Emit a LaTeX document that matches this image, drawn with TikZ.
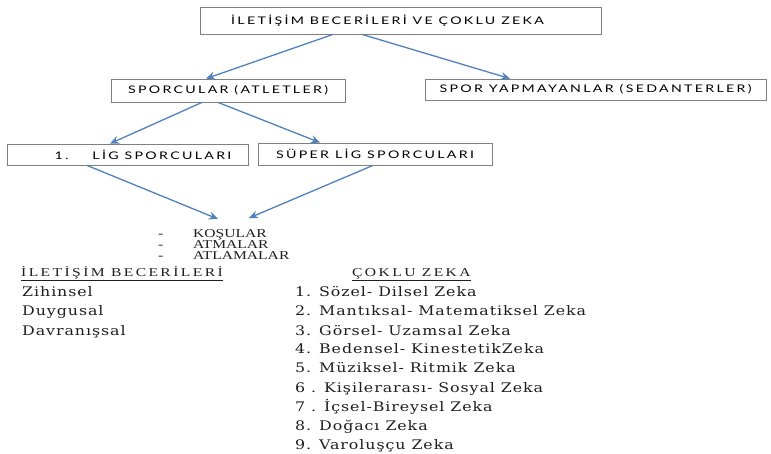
\documentclass[tikz,border=0pt]{standalone}
\usepackage{fontspec}
\setmainfont{DejaVu Serif}
\newfontfamily\kutufont[FakeStretch=1.35,LetterSpace=22]{Lato}
\newfontfamily\basfont[FakeStretch=1.3]{Liberation Serif}
\newfontfamily\ustfont[FakeStretch=1.3,LetterSpace=20]{Liberation Serif}
\newfontfamily\listefont[FakeStretch=1.2,LetterSpace=7]{DejaVu Serif}
\usetikzlibrary{arrows.meta,positioning,calc}

\definecolor{okmavi}{RGB}{79,129,189}
\definecolor{kutugri}{RGB}{128,128,128}
\definecolor{yazi}{RGB}{30,30,30}

\tikzset{
  kutu/.style={draw=kutugri, line width=.8pt, fill=white, inner sep=0pt, text=black,
    font=\kutufont\fontsize{10.5}{12}\selectfont},
  ok/.style={draw=okmavi, line width=1.3pt, -{Stealth[length=9pt,width=8pt]}},
  madde/.style={anchor=west, inner sep=0pt, text=yazi, text height=1.6ex, text depth=.4ex,
    font=\listefont\fontsize{13.2}{15}\selectfont},
  baslik/.style={anchor=west, inner sep=0pt, text=yazi, text height=1.6ex, text depth=.4ex,
    font=\basfont\fontsize{12}{14}\selectfont},
  ustbaslik/.style={baslik, font=\ustfont\fontsize{12}{14}\selectfont}
}

\begin{document}
\begin{tikzpicture}[x = 1pt, y = -1pt]
\useasboundingbox (0,0) rectangle (771,453);
% kutular
\node[kutu, minimum width=401pt, minimum height=27pt] (ana) at (400.5,20.5) {\hspace*{-26pt}İLETİŞİM BECERİLERİ VE ÇOKLU ZEKA};
\node[kutu, minimum width=234pt, minimum height=23pt] (sporcu) at (228,90.5) {SPORCULAR (ATLETLER)};
\node[kutu, minimum width=341pt, minimum height=21pt] (sedanter) at (595.5,89.5) {SPOR YAPMAYANLAR (SEDANTERLER)};
\node[kutu, minimum width=241pt, minimum height=21pt] (lig1) at (127.5,154.5) {\hspace*{31pt}1.\hspace{24pt}LİG SPORCULARI};
\node[kutu, minimum width=234pt, minimum height=22pt] (superlig) at (375,154) {SÜPER LİG SPORCULARI};
\coordinate (hedef1) at (218,219);
\coordinate (hedef2) at (249,218);
% oklar
\draw[ok] ([xshift=-67.5pt]ana.south) -- ([xshift=-22pt]sporcu.north);
\draw[ok] ([xshift=-38.5pt]ana.south) -- ([xshift=-85.5pt]sedanter.north);
\draw[ok] ([xshift=-26pt]sporcu.south) -- ([xshift=-17.5pt]lig1.north);
\draw[ok] ([xshift=-10pt]sporcu.south) -- ([xshift=-55pt]superlig.north);
\draw[ok] ([xshift=-40.5pt]lig1.south) -- (hedef1);
\draw[ok] ([xshift=-2pt]superlig.south) -- (hedef2);
% branslar
\node[baslik] (tire1) at (158,234) {-};
\node[baslik] (tire2) at (158,245) {-};
\node[baslik] (tire3) at (158,256) {-};
\node[baslik] (kosu) at (193,234) {KOŞULAR};
\node[baslik] (atma) at (193,245) {ATMALAR};
\node[baslik] (atlama) at (193,256) {ATLAMALAR};
% iletisim becerileri
\node[ustbaslik] (iletisim) at (21,273) {\underline{İLETİŞİM BECERİLERİ}};
\node[madde] (zihinsel) at (22,293) {Zihinsel};
\node[madde] (duygusal) at (22,312.5) {Duygusal};
\node[madde] (davranis) at (22,332) {Davranışsal};
% coklu zeka
\node[ustbaslik] (coklu) at (352,273) {\underline{ÇOKLU ZEKA}};
\node[madde] (zeka1) at (295,293) {1. Sözel- Dilsel Zeka};
\node[madde] (zeka2) at (295,312.5) {2. Mantıksal- Matematiksel Zeka};
\node[madde] (zeka3) at (295,332) {3. Görsel- Uzamsal Zeka};
\node[madde] (zeka4) at (295,350.5) {4. Bedensel- KinestetikZeka};
\node[madde] (zeka5) at (295,369.5) {5. Müziksel- Ritmik Zeka};
\node[madde] (zeka6) at (295,389) {6 . Kişilerarası- Sosyal Zeka};
\node[madde] (zeka7) at (295,408) {7 . İçsel-Bireysel Zeka};
\node[madde] (zeka8) at (295,427) {8. Doğacı Zeka};
\node[madde] (zeka9) at (295,446.5) {9. Varoluşçu Zeka};
\end{tikzpicture}
\end{document}
